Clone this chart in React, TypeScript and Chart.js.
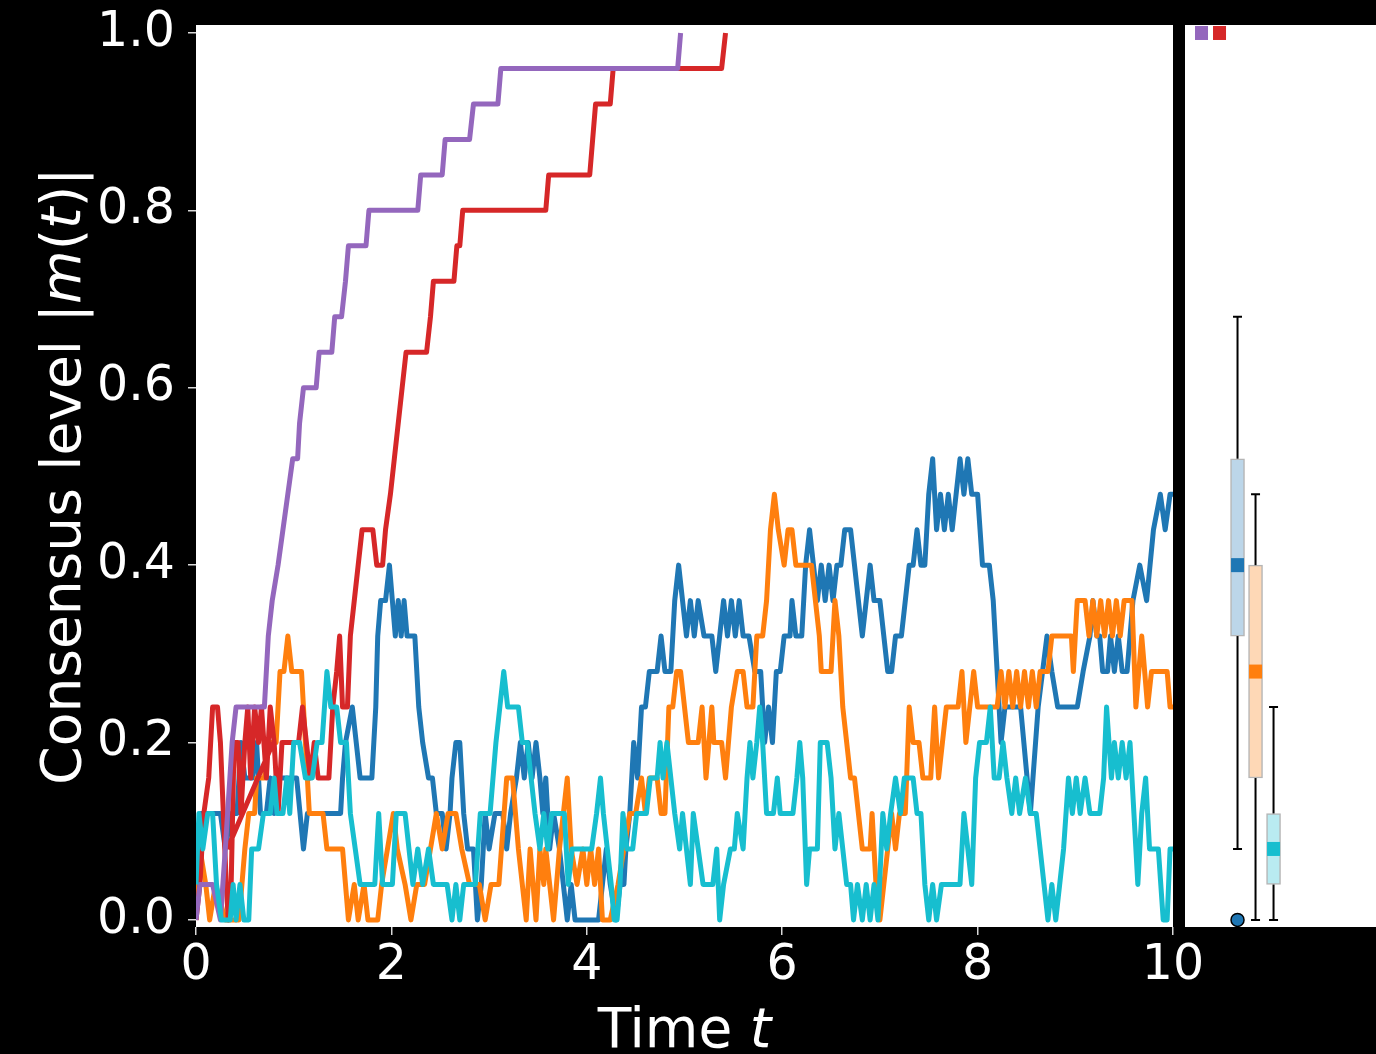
import React, { useEffect, useRef } from "react";
import { Chart, registerables } from "chart.js";

Chart.register(...registerables);

// ---- axis ticks ----
const xTicks = [0, 2, 4, 6, 8, 10];
const yTicks = [0, 0.2, 0.4, 0.6, 0.8, 1.0];

// ---- trajectories: [time, |m(t)|] ----
const purplePath: number[][] = [
  [0, 0], [0.04, 0.04], [0.17, 0.04], [0.25, 0.0], [0.3, 0.08], [0.37, 0.2], [0.41, 0.24], [0.7, 0.24],
  [0.74, 0.32], [0.78, 0.36], [0.84, 0.4], [0.89, 0.44], [0.94, 0.48], [0.99, 0.52], [1.04, 0.52],
  [1.06, 0.56], [1.1, 0.6], [1.23, 0.6], [1.26, 0.64], [1.39, 0.64], [1.42, 0.68], [1.49, 0.68],
  [1.53, 0.72], [1.56, 0.76], [1.74, 0.76], [1.77, 0.8], [2.27, 0.8], [2.3, 0.84], [2.52, 0.84],
  [2.55, 0.88], [2.8, 0.88], [2.84, 0.92], [3.09, 0.92], [3.12, 0.96], [4.93, 0.96], [4.96, 1.0],
];

const redPath: number[][] = [
  [0, 0.0], [0.04, 0.04], [0.08, 0.12], [0.13, 0.16], [0.17, 0.24], [0.22, 0.24], [0.25, 0.2], [0.28, 0.12],
  [0.31, 0.04], [0.33, 0.0], [0.36, 0.04], [0.39, 0.2], [0.43, 0.2], [0.46, 0.12], [0.5, 0.2], [0.53, 0.24],
  [0.56, 0.16], [0.6, 0.24], [0.64, 0.2], [0.67, 0.24], [0.72, 0.16], [0.76, 0.24], [0.8, 0.2], [0.84, 0.12],
  [0.88, 0.2], [1.05, 0.2], [1.09, 0.24], [1.13, 0.2], [1.17, 0.16], [1.21, 0.2], [1.25, 0.16], [1.36, 0.16],
  [1.4, 0.24], [1.44, 0.28], [1.47, 0.32], [1.5, 0.24], [1.55, 0.24], [1.58, 0.32], [1.62, 0.36], [1.66, 0.4],
  [1.7, 0.44], [1.81, 0.44], [1.85, 0.4], [1.91, 0.4], [1.94, 0.44], [1.99, 0.48], [2.03, 0.52], [2.07, 0.56],
  [2.11, 0.6], [2.15, 0.64], [2.36, 0.64], [2.4, 0.68], [2.43, 0.72], [2.64, 0.72], [2.67, 0.76], [2.7, 0.76],
  [2.73, 0.8], [3.58, 0.8], [3.61, 0.84], [4.03, 0.84], [4.06, 0.88], [4.09, 0.92], [4.24, 0.92], [4.27, 0.96],
  [5.38, 0.96], [5.42, 1.0],
];
const redShortcut: number[][] = [[0.32, 0.08], [0.79, 0.2]];

const bluePath: number[][] = [
  [0, 0.04], [0.05, 0.12], [0.25, 0.12], [0.3, 0.08], [0.36, 0.12], [0.42, 0.12], [0.46, 0.2], [0.5, 0.16],
  [0.58, 0.16], [0.62, 0.2], [0.66, 0.12], [0.72, 0.12], [0.76, 0.16], [0.8, 0.12], [0.83, 0.16], [1.03, 0.16],
  [1.1, 0.08], [1.14, 0.12], [1.48, 0.12], [1.5, 0.16], [1.53, 0.2], [1.6, 0.24], [1.64, 0.2], [1.68, 0.16],
  [1.8, 0.16], [1.84, 0.24], [1.86, 0.32], [1.89, 0.36], [1.94, 0.36], [1.98, 0.4], [2.01, 0.36], [2.04, 0.32],
  [2.07, 0.36], [2.1, 0.32], [2.13, 0.36], [2.16, 0.32], [2.24, 0.32], [2.28, 0.24], [2.32, 0.2], [2.38, 0.16],
  [2.42, 0.16], [2.46, 0.12], [2.52, 0.12], [2.56, 0.08], [2.6, 0.12], [2.62, 0.16], [2.66, 0.2], [2.7, 0.2],
  [2.74, 0.12], [2.78, 0.08], [2.84, 0.08], [2.88, 0.0], [2.92, 0.04], [2.96, 0.12], [3.0, 0.08], [3.06, 0.12],
  [3.14, 0.12], [3.18, 0.08], [3.22, 0.12], [3.28, 0.16], [3.32, 0.2], [3.36, 0.16], [3.4, 0.2], [3.44, 0.16],
  [3.48, 0.2], [3.52, 0.16], [3.55, 0.12], [3.58, 0.16], [3.62, 0.08], [3.66, 0.12], [3.72, 0.08], [3.76, 0.04],
  [3.8, 0.0], [3.84, 0.04], [3.88, 0.0], [4.12, 0.0], [4.16, 0.04], [4.2, 0.08], [4.24, 0.04], [4.3, 0.0],
  [4.34, 0.04], [4.38, 0.04], [4.4, 0.08], [4.44, 0.12], [4.48, 0.2], [4.52, 0.16], [4.56, 0.24], [4.6, 0.24],
  [4.64, 0.28], [4.72, 0.28], [4.76, 0.32], [4.8, 0.28], [4.86, 0.28], [4.9, 0.36], [4.94, 0.4], [4.98, 0.36],
  [5.02, 0.32], [5.06, 0.36], [5.1, 0.32], [5.14, 0.36], [5.2, 0.32], [5.28, 0.32], [5.32, 0.28], [5.36, 0.32],
  [5.4, 0.36], [5.44, 0.32], [5.48, 0.36], [5.52, 0.32], [5.56, 0.36], [5.6, 0.32], [5.66, 0.32], [5.72, 0.28],
  [5.78, 0.28], [5.82, 0.2], [5.86, 0.24], [5.9, 0.2], [5.94, 0.28], [5.98, 0.28], [6.02, 0.32], [6.08, 0.32],
  [6.1, 0.36], [6.14, 0.32], [6.2, 0.32], [6.24, 0.4], [6.28, 0.44], [6.32, 0.4], [6.36, 0.36], [6.4, 0.4],
  [6.44, 0.36], [6.48, 0.4], [6.52, 0.36], [6.56, 0.4], [6.6, 0.4], [6.64, 0.44], [6.7, 0.44], [6.74, 0.4],
  [6.78, 0.36], [6.82, 0.32], [6.86, 0.36], [6.9, 0.4], [6.94, 0.36], [7.0, 0.36], [7.04, 0.32], [7.08, 0.28],
  [7.12, 0.28], [7.16, 0.32], [7.22, 0.32], [7.26, 0.36], [7.3, 0.4], [7.34, 0.4], [7.38, 0.44], [7.42, 0.4],
  [7.46, 0.4], [7.5, 0.48], [7.54, 0.52], [7.58, 0.44], [7.62, 0.48], [7.66, 0.44], [7.7, 0.48], [7.74, 0.44],
  [7.78, 0.48], [7.82, 0.52], [7.86, 0.48], [7.9, 0.52], [7.94, 0.48], [8.0, 0.48], [8.05, 0.4], [8.12, 0.4],
  [8.16, 0.36], [8.2, 0.28], [8.24, 0.2], [8.28, 0.24], [8.44, 0.24], [8.54, 0.12], [8.62, 0.24], [8.71, 0.32],
  [8.76, 0.28], [8.82, 0.24], [9.02, 0.24], [9.08, 0.28], [9.15, 0.32], [9.18, 0.36], [9.22, 0.32], [9.25, 0.32],
  [9.28, 0.28], [9.33, 0.28], [9.36, 0.32], [9.4, 0.28], [9.44, 0.32], [9.48, 0.28], [9.53, 0.28], [9.59, 0.36],
  [9.66, 0.4], [9.73, 0.36], [9.8, 0.44], [9.87, 0.48], [9.92, 0.44], [9.97, 0.48], [10.0, 0.48],
];

const orangePath: number[][] = [
  [0, 0.0], [0.04, 0.08], [0.1, 0.04], [0.14, 0.0], [0.2, 0.04], [0.3, 0.0], [0.44, 0.0], [0.5, 0.08],
  [0.54, 0.12], [0.6, 0.12], [0.62, 0.16], [0.7, 0.16], [0.74, 0.2], [0.82, 0.2], [0.86, 0.28], [0.9, 0.28],
  [0.94, 0.32], [0.98, 0.28], [1.08, 0.28], [1.12, 0.2], [1.14, 0.16], [1.16, 0.12], [1.3, 0.12], [1.34, 0.08],
  [1.5, 0.08], [1.56, 0.0], [1.62, 0.04], [1.66, 0.0], [1.72, 0.04], [1.76, 0.0], [1.86, 0.0], [1.9, 0.04],
  [1.96, 0.08], [2.02, 0.12], [2.06, 0.08], [2.14, 0.04], [2.2, 0.0], [2.26, 0.04], [2.34, 0.04], [2.4, 0.08],
  [2.46, 0.12], [2.52, 0.08], [2.58, 0.12], [2.66, 0.12], [2.72, 0.08], [2.8, 0.04], [2.9, 0.04], [2.96, 0.0],
  [3.02, 0.04], [3.1, 0.04], [3.18, 0.16], [3.24, 0.16], [3.3, 0.08], [3.34, 0.04], [3.38, 0.0], [3.42, 0.08],
  [3.48, 0.0], [3.52, 0.08], [3.56, 0.04], [3.58, 0.08], [3.62, 0.04], [3.66, 0.0], [3.72, 0.08], [3.76, 0.12],
  [3.8, 0.16], [3.84, 0.08], [3.9, 0.04], [3.96, 0.08], [4.0, 0.04], [4.04, 0.08], [4.08, 0.04], [4.12, 0.08],
  [4.16, 0.0], [4.24, 0.0], [4.32, 0.04], [4.38, 0.08], [4.44, 0.12], [4.5, 0.12], [4.56, 0.16], [4.6, 0.12],
  [4.64, 0.16], [4.72, 0.16], [4.76, 0.12], [4.8, 0.12], [4.84, 0.24], [4.88, 0.24], [4.92, 0.28], [4.96, 0.28],
  [5.0, 0.24], [5.04, 0.2], [5.14, 0.2], [5.18, 0.24], [5.22, 0.16], [5.28, 0.24], [5.3, 0.2], [5.38, 0.2],
  [5.42, 0.16], [5.48, 0.24], [5.54, 0.28], [5.6, 0.28], [5.64, 0.24], [5.7, 0.24], [5.74, 0.32], [5.8, 0.32],
  [5.84, 0.36], [5.88, 0.44], [5.92, 0.48], [5.96, 0.44], [6.02, 0.4], [6.06, 0.44], [6.1, 0.44], [6.14, 0.4],
  [6.3, 0.4], [6.34, 0.36], [6.38, 0.32], [6.4, 0.28], [6.5, 0.28], [6.54, 0.36], [6.58, 0.32], [6.62, 0.24],
  [6.66, 0.2], [6.7, 0.16], [6.74, 0.16], [6.78, 0.12], [6.82, 0.08], [6.9, 0.08], [6.92, 0.12], [6.96, 0.04],
  [7.0, 0.0], [7.04, 0.04], [7.08, 0.08], [7.12, 0.12], [7.16, 0.08], [7.2, 0.12], [7.26, 0.12], [7.3, 0.24],
  [7.34, 0.2], [7.4, 0.2], [7.44, 0.16], [7.52, 0.16], [7.56, 0.24], [7.6, 0.16], [7.64, 0.2], [7.68, 0.24],
  [7.8, 0.24], [7.84, 0.28], [7.88, 0.2], [7.92, 0.24], [7.96, 0.28], [8.0, 0.24], [8.2, 0.24], [8.24, 0.28],
  [8.28, 0.24], [8.32, 0.28], [8.36, 0.24], [8.4, 0.28], [8.44, 0.24], [8.48, 0.28], [8.52, 0.24], [8.56, 0.28],
  [8.6, 0.24], [8.64, 0.28], [8.72, 0.28], [8.76, 0.32], [8.96, 0.32], [8.98, 0.28], [9.02, 0.36], [9.1, 0.36],
  [9.14, 0.32], [9.18, 0.36], [9.22, 0.32], [9.26, 0.36], [9.3, 0.32], [9.34, 0.36], [9.38, 0.32], [9.42, 0.36],
  [9.46, 0.32], [9.5, 0.36], [9.58, 0.36], [9.62, 0.24], [9.68, 0.32], [9.74, 0.24], [9.78, 0.28], [9.94, 0.28],
  [9.97, 0.24], [10.0, 0.24],
];

const cyanPath: number[][] = [
  [0, 0.04], [0.03, 0.12], [0.07, 0.08], [0.12, 0.12], [0.17, 0.12], [0.21, 0.04], [0.26, 0.0], [0.35, 0.0],
  [0.38, 0.04], [0.41, 0.0], [0.45, 0.04], [0.49, 0.0], [0.54, 0.0], [0.57, 0.08], [0.64, 0.08], [0.69, 0.12],
  [0.76, 0.12], [0.8, 0.16], [0.83, 0.12], [0.89, 0.12], [0.93, 0.16], [0.96, 0.12], [1.0, 0.2], [1.06, 0.2],
  [1.12, 0.16], [1.19, 0.16], [1.24, 0.2], [1.29, 0.2], [1.34, 0.28], [1.38, 0.24], [1.44, 0.24], [1.48, 0.2],
  [1.54, 0.2], [1.58, 0.12], [1.63, 0.08], [1.68, 0.04], [1.83, 0.04], [1.87, 0.12], [1.91, 0.04], [2.01, 0.04],
  [2.05, 0.12], [2.14, 0.12], [2.18, 0.08], [2.22, 0.04], [2.27, 0.08], [2.32, 0.04], [2.38, 0.08], [2.43, 0.04],
  [2.57, 0.04], [2.62, 0.0], [2.66, 0.04], [2.7, 0.0], [2.74, 0.04], [2.86, 0.04], [2.91, 0.12], [3.01, 0.12],
  [3.07, 0.2], [3.11, 0.24], [3.15, 0.28], [3.19, 0.24], [3.3, 0.24], [3.34, 0.2], [3.39, 0.2], [3.43, 0.16],
  [3.47, 0.12], [3.52, 0.08], [3.56, 0.12], [3.6, 0.08], [3.64, 0.12], [3.77, 0.12], [3.81, 0.04], [3.85, 0.08],
  [4.05, 0.08], [4.1, 0.12], [4.14, 0.16], [4.17, 0.12], [4.21, 0.08], [4.25, 0.04], [4.28, 0.0], [4.31, 0.0],
  [4.34, 0.04], [4.37, 0.12], [4.41, 0.08], [4.47, 0.08], [4.51, 0.12], [4.61, 0.12], [4.65, 0.16], [4.72, 0.16],
  [4.75, 0.2], [4.78, 0.16], [4.82, 0.2], [4.86, 0.16], [4.9, 0.12], [4.95, 0.08], [4.98, 0.12], [5.06, 0.04],
  [5.09, 0.12], [5.14, 0.08], [5.19, 0.04], [5.29, 0.04], [5.33, 0.08], [5.36, 0.0], [5.4, 0.04], [5.47, 0.08],
  [5.51, 0.08], [5.54, 0.12], [5.6, 0.08], [5.64, 0.16], [5.67, 0.2], [5.7, 0.16], [5.74, 0.2], [5.77, 0.24],
  [5.8, 0.2], [5.84, 0.12], [5.91, 0.12], [5.95, 0.16], [5.98, 0.12], [6.11, 0.12], [6.15, 0.16], [6.18, 0.2],
  [6.21, 0.16], [6.25, 0.04], [6.28, 0.08], [6.36, 0.08], [6.39, 0.2], [6.46, 0.2], [6.5, 0.16], [6.54, 0.08],
  [6.58, 0.12], [6.62, 0.08], [6.66, 0.04], [6.7, 0.04], [6.73, 0.0], [6.77, 0.04], [6.82, 0.0], [6.86, 0.04],
  [6.9, 0.0], [6.94, 0.04], [6.98, 0.0], [7.03, 0.12], [7.07, 0.08], [7.11, 0.12], [7.16, 0.16], [7.21, 0.12],
  [7.25, 0.16], [7.34, 0.16], [7.38, 0.12], [7.42, 0.12], [7.46, 0.04], [7.5, 0.0], [7.54, 0.04], [7.58, 0.0],
  [7.63, 0.04], [7.82, 0.04], [7.86, 0.12], [7.9, 0.08], [7.94, 0.04], [7.98, 0.16], [8.02, 0.2], [8.09, 0.2],
  [8.13, 0.24], [8.17, 0.16], [8.22, 0.16], [8.26, 0.2], [8.3, 0.16], [8.35, 0.12], [8.39, 0.16], [8.43, 0.12],
  [8.49, 0.16], [8.54, 0.12], [8.6, 0.12], [8.64, 0.08], [8.68, 0.04], [8.72, 0.0], [8.76, 0.04], [8.8, 0.0],
  [8.84, 0.04], [8.88, 0.08], [8.93, 0.16], [8.97, 0.12], [9.01, 0.16], [9.05, 0.12], [9.1, 0.16], [9.15, 0.12],
  [9.25, 0.12], [9.29, 0.16], [9.32, 0.24], [9.37, 0.16], [9.4, 0.2], [9.44, 0.16], [9.48, 0.2], [9.52, 0.16],
  [9.56, 0.2], [9.6, 0.12], [9.64, 0.04], [9.68, 0.12], [9.72, 0.16], [9.76, 0.08], [9.85, 0.08], [9.9, 0.0],
  [9.94, 0.0], [9.97, 0.08], [10.0, 0.08],
];

// ---- summary box plots (final consensus level per run group) ----
const boxPositions = [1, 2, 3, 4, 5];
const boxColors = ["#9467bd", "#d62728", "#1f77b4", "#ff7f0e", "#17becf"];
const boxFills = ["#dfd1ec", "#f3bebe", "#bcd6e9", "#fed8b6", "#b9ebf1"];
const boxLow = [1.0, 1.0, 0.08, 0.0, 0.0];
const boxQ1 = [1.0, 1.0, 0.32, 0.16, 0.04];
const boxMedian = [1.0, 1.0, 0.4, 0.28, 0.08];
const boxQ3 = [1.0, 1.0, 0.52, 0.4, 0.12];
const boxHigh = [1.0, 1.0, 0.68, 0.48, 0.24];
const outlierPos = [3];
const outlierVal = [0.0];

const FONT = "DejaVu Sans";
const Y_MIN = -0.008;
const Y_MAX = 1.009;

const toPoints = (path: number[][]) => path.map(([x, y]) => ({ x, y }));

function drawMixed(
  ctx: CanvasRenderingContext2D,
  parts: { text: string; italic?: boolean }[],
  size: number,
  cx: number,
  baseline: number
) {
  const fonts = parts.map((p) => `${p.italic ? "italic " : ""}${size}px "${FONT}"`);
  const widths = parts.map((p, i) => {
    ctx.font = fonts[i];
    return ctx.measureText(p.text).width;
  });
  const total = widths.reduce((a, b) => a + b, 0);
  let x = cx - total / 2;
  ctx.textAlign = "left";
  ctx.textBaseline = "alphabetic";
  parts.forEach((p, i) => {
    ctx.font = fonts[i];
    ctx.fillText(p.text, x, baseline);
    x += widths[i];
  });
}

const plotBackground = {
  id: "plotBackground",
  beforeDraw(chart: any) {
    const { ctx, chartArea } = chart;
    ctx.save();
    ctx.fillStyle = "#ffffff";
    ctx.fillRect(chartArea.left, chartArea.top, chartArea.right - chartArea.left, chartArea.bottom - chartArea.top);
    ctx.restore();
  },
};

const axisTitles = {
  id: "axisTitles",
  afterDraw(chart: any) {
    const { ctx, chartArea } = chart;
    ctx.save();
    ctx.fillStyle = "#ffffff";
    const cx = (chartArea.left + chartArea.right) / 2;
    drawMixed(ctx, [{ text: "Time " }, { text: "t", italic: true }], 55, cx, 1047);
    ctx.translate(80, (chartArea.top + chartArea.bottom) / 2);
    ctx.rotate(-Math.PI / 2);
    drawMixed(
      ctx,
      [
        { text: "Consensus level |" },
        { text: "m", italic: true },
        { text: "(" },
        { text: "t", italic: true },
        { text: ")|" },
      ],
      55,
      0,
      0
    );
    ctx.restore();
  },
};

const boxParts = {
  id: "boxParts",
  beforeDatasetsDraw(chart: any) {
    const { ctx } = chart;
    const xs = chart.scales.x;
    const ys = chart.scales.y;
    ctx.save();
    ctx.strokeStyle = "#000000";
    ctx.lineWidth = 2;
    boxPositions.forEach((p, i) => {
      const x = xs.getPixelForValue(p);
      const segs = [
        [boxQ3[i], boxHigh[i]],
        [boxQ1[i], boxLow[i]],
      ];
      segs.forEach(([a, b]) => {
        if (a === b) return;
        const ya = ys.getPixelForValue(a);
        const yb = ys.getPixelForValue(b);
        ctx.beginPath();
        ctx.moveTo(x, ya);
        ctx.lineTo(x, yb);
        ctx.moveTo(x - 4.5, yb);
        ctx.lineTo(x + 4.5, yb);
        ctx.stroke();
      });
    });
    ctx.restore();
  },
  afterDatasetsDraw(chart: any) {
    const { ctx, chartArea } = chart;
    const xs = chart.scales.x;
    const ys = chart.scales.y;
    ctx.save();
    ctx.beginPath();
    ctx.rect(chartArea.left, chartArea.top, chartArea.right - chartArea.left, chartArea.bottom - chartArea.top);
    ctx.clip();
    boxPositions.forEach((p, i) => {
      const x = xs.getPixelForValue(p);
      const y = ys.getPixelForValue(boxMedian[i]);
      ctx.fillStyle = boxColors[i];
      ctx.fillRect(x - 6.5, y - 7, 13, 14);
    });
    ctx.restore();
  },
};

function lineDataset(label: string, data: any[], color: string, order: number) {
  return {
    type: "line",
    label,
    data,
    borderColor: color,
    backgroundColor: color,
    borderWidth: 5,
    pointRadius: 0,
    tension: 0,
    fill: false,
    spanGaps: false,
    borderJoinStyle: "round",
    clip: 0,
    order,
  };
}

const tickFont = { family: FONT, size: 49 };

export default function App() {
  const mainRef = useRef<HTMLCanvasElement>(null);
  const sideRef = useRef<HTMLCanvasElement>(null);

  useEffect(() => {
    const redData = [...toPoints(redPath), { x: 0.8, y: null }, ...toPoints(redShortcut)];
    const main = new Chart(mainRef.current as HTMLCanvasElement, {
      type: "line",
      data: {
        datasets: [
          lineDataset("cyan", toPoints(cyanPath), "#17becf", 0),
          lineDataset("purple", toPoints(purplePath), "#9467bd", 1),
          lineDataset("red", redData, "#d62728", 2),
          lineDataset("orange", toPoints(orangePath), "#ff7f0e", 3),
          lineDataset("blue", toPoints(bluePath), "#1f77b4", 4),
        ] as any,
      },
      options: {
        responsive: false,
        animation: false,
        devicePixelRatio: 1,
        layout: { autoPadding: false, padding: { top: 25, right: 203, left: 0, bottom: 0 } },
        plugins: { legend: { display: false }, tooltip: { enabled: false } },
        events: [],
        scales: {
          x: {
            type: "linear",
            min: 0,
            max: 10,
            afterBuildTicks: (s: any) => {
              s.ticks = xTicks.map((v) => ({ value: v }));
            },
            afterFit: (s: any) => {
              s.height = 127;
              s.paddingLeft = 0;
              s.paddingRight = 0;
            },
            grid: { drawOnChartArea: false, drawTicks: true, tickLength: 8, color: "#d8d8d8", lineWidth: 1.5 },
            border: { display: false },
            ticks: {
              color: "#ffffff",
              font: tickFont,
              padding: 2,
              maxRotation: 0,
              autoSkip: false,
              callback: (v: any) => String(v),
            },
          },
          y: {
            type: "linear",
            min: Y_MIN,
            max: Y_MAX,
            afterBuildTicks: (s: any) => {
              s.ticks = yTicks.map((v) => ({ value: v }));
            },
            afterFit: (s: any) => {
              s.width = 196;
              s.paddingTop = 0;
              s.paddingBottom = 0;
            },
            grid: { drawOnChartArea: false, drawTicks: true, tickLength: 8, color: "#d8d8d8", lineWidth: 1.5 },
            border: { display: false },
            ticks: {
              color: "#ffffff",
              font: tickFont,
              padding: 13,
              autoSkip: false,
              callback: (v: any) => Number(v).toFixed(1),
            },
          },
        },
      } as any,
      plugins: [plotBackground, axisTitles],
    });

    const side = new Chart(sideRef.current as HTMLCanvasElement, {
      type: "bar",
      data: {
        datasets: [
          {
            type: "line",
            label: "outliers",
            data: outlierPos.map((p, i) => ({ x: p, y: outlierVal[i] })),
            showLine: false,
            pointRadius: 6.5,
            pointBackgroundColor: "#1f77b4",
            pointBorderColor: "#000000",
            pointBorderWidth: 1.5,
            order: 0,
          },
          {
            type: "bar",
            label: "boxes",
            data: boxPositions.map((p, i) => ({ x: p, y: [boxQ1[i], boxQ3[i]] })),
            backgroundColor: boxFills,
            borderColor: "rgba(120,120,120,0.55)",
            borderWidth: 1.5,
            borderSkipped: false,
            barThickness: 14,
            order: 1,
          },
        ] as any,
      },
      options: {
        responsive: false,
        animation: false,
        devicePixelRatio: 1,
        layout: { autoPadding: false, padding: { top: 25, bottom: 127, left: 0, right: 0 } },
        plugins: { legend: { display: false }, tooltip: { enabled: false } },
        events: [],
        scales: {
          x: { type: "linear", min: 0.083, max: 10.69, display: false, offset: false },
          y: { type: "linear", min: Y_MIN, max: Y_MAX, display: false },
        },
      } as any,
      plugins: [plotBackground, boxParts],
    });

    return () => {
      main.destroy();
      side.destroy();
    };
  }, []);

  return (
    <div
      style={{
        position: "fixed",
        left: 0,
        top: 0,
        width: 1376,
        height: 1054,
        background: "#000000",
        overflow: "hidden",
      }}
    >
      <canvas
        ref={mainRef}
        width={1376}
        height={1054}
        style={{ position: "absolute", left: 0, top: 0, width: 1376, height: 1054 }}
      />
      <canvas
        ref={sideRef}
        width={191}
        height={1054}
        style={{ position: "absolute", left: 1185, top: 0, width: 191, height: 1054 }}
      />
    </div>
  );
}
